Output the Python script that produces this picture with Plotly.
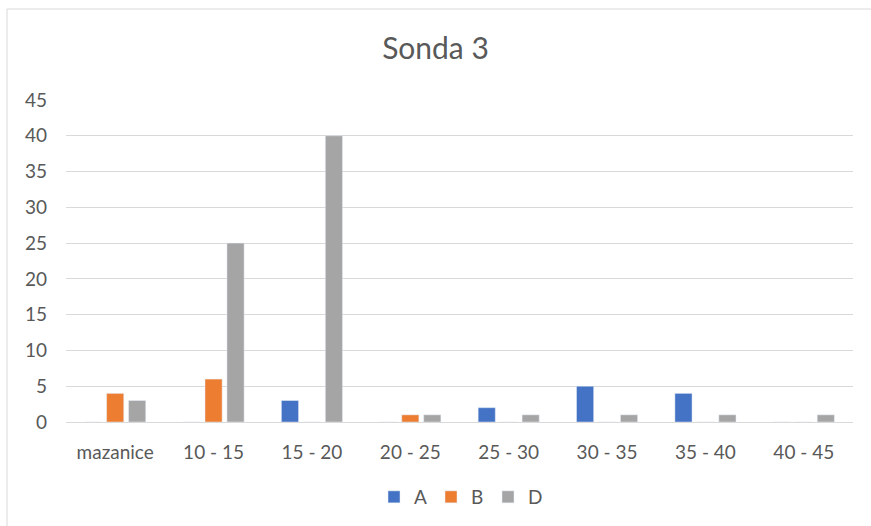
import plotly.graph_objects as go

categories = ["mazanice", "10 - 15", "15 - 20", "20 - 25", "25 - 30", "30 - 35", "35 - 40", "40 - 45"]
series_a = [0, 0, 3, 0, 2, 5, 4, 0]
series_b = [4, 6, 0, 1, 0, 0, 0, 0]
series_d = [3, 25, 40, 1, 1, 1, 1, 1]
y_ticks = [0, 5, 10, 15, 20, 25, 30, 35, 40, 45]

W, H = 871, 526
L, R, T, B = 66, 18, 100, 104
pw, ph = W - L - R, H - T - B

fig = go.Figure()
fig.add_trace(go.Bar(name="A", x=categories, y=series_a, marker=dict(color="#4472C4")))
fig.add_trace(go.Bar(name="B", x=categories, y=series_b, marker=dict(color="#ED7D31")))
fig.add_trace(go.Bar(name="D", x=categories, y=series_d, marker=dict(color="#A5A5A5")))

font_family = "Lato, Open Sans, sans-serif"

fig.update_layout(
    width=W, height=H,
    margin=dict(l=L, r=R, t=T, b=B, autoexpand=False),
    paper_bgcolor="white", plot_bgcolor="white",
    barmode="group", bargap=0.33, bargroupgap=0.22,
    title=dict(text="Sonda 3", x=0.5, xanchor="center", y=1 - 48 / H, yanchor="middle",
               font=dict(family=font_family, size=30, color="#595959")),
    font=dict(family=font_family, size=19, color="#595959"),
    xaxis=dict(showgrid=False, showline=True, linecolor="#D9D9D9", linewidth=1,
               ticks="", tickfont=dict(size=19, color="#595959"), ticklabelstandoff=13),
    yaxis=dict(range=[0, 45], tickvals=y_ticks, showgrid=True, gridcolor="#D9D9D9",
               gridwidth=1, zeroline=False, showline=False, ticks="",
               tickfont=dict(size=19, color="#595959"), ticklabelstandoff=18),
    legend=dict(orientation="h", x=0.5, xanchor="center", y=-(497 - 422) / ph, yanchor="middle",
                font=dict(size=19, color="#595959"), itemwidth=30, traceorder="normal",
                entrywidth=12, entrywidthmode="pixels"),
    shapes=[
        dict(type="line", xref="paper", yref="paper", x0=(7 - L) / pw, x1=(W - L) / pw,
             y0=(H - B - 9) / ph, y1=(H - B - 9) / ph, line=dict(color="#D9D9D9", width=1)),
        dict(type="line", xref="paper", yref="paper", x0=(7 - L) / pw, x1=(7 - L) / pw,
             y0=(H - B - 9) / ph, y1=-(B + 5) / ph, line=dict(color="#D9D9D9", width=1)),
    ],
)

fig.write_html("out.html", config={"displayModeBar": False},
               post_script="document.body.style.margin='0';document.body.style.overflow='hidden';")
